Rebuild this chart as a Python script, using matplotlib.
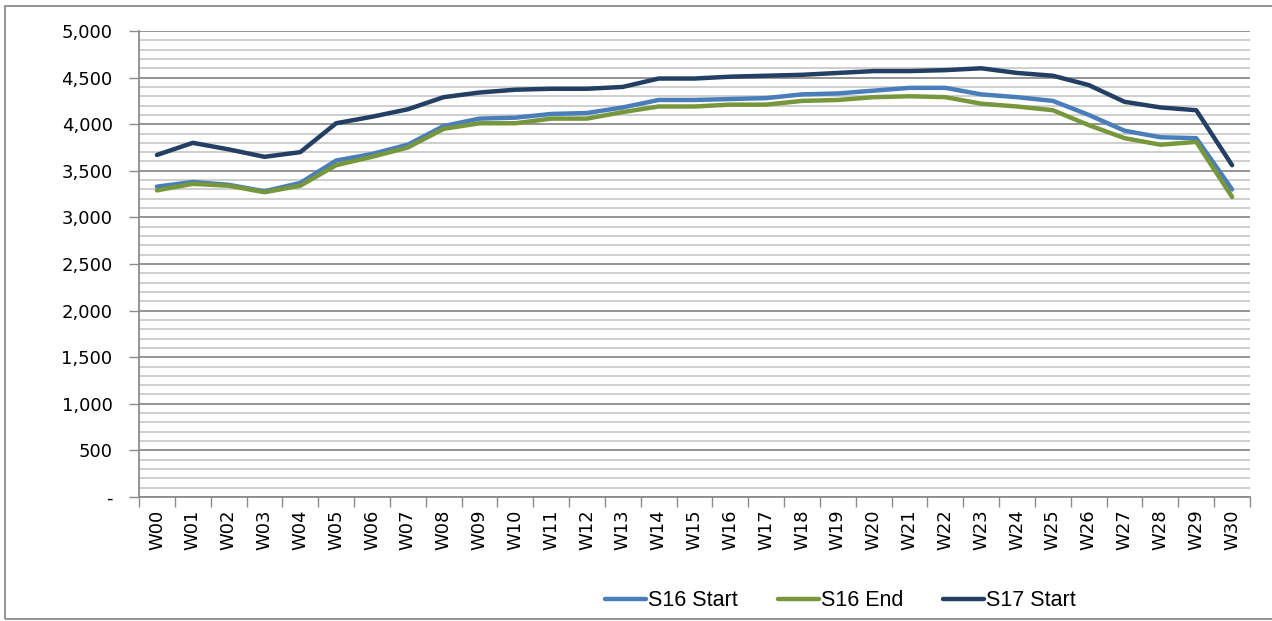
import numpy as np
import matplotlib
matplotlib.use("Agg")
import matplotlib.pyplot as plt
from matplotlib.ticker import MultipleLocator, FixedLocator, FuncFormatter
from matplotlib.patches import Rectangle
from matplotlib.lines import Line2D

weeks = ["W%02d" % i for i in range(31)]

s16_start = [3330, 3380, 3350, 3280, 3370, 3610, 3680, 3780, 3980, 4060,
             4070, 4110, 4120, 4180, 4260, 4260, 4270, 4280, 4320, 4330,
             4360, 4390, 4390, 4320, 4290, 4250, 4100, 3930, 3860, 3850, 3300]
s16_end = [3290, 3360, 3340, 3270, 3340, 3560, 3650, 3750, 3950, 4010,
           4010, 4060, 4060, 4130, 4190, 4190, 4210, 4210, 4250, 4260,
           4290, 4300, 4290, 4220, 4190, 4150, 3990, 3850, 3780, 3810, 3220]
s17_start = [3670, 3800, 3730, 3650, 3700, 4010, 4080, 4160, 4290, 4340,
             4370, 4380, 4380, 4400, 4490, 4490, 4510, 4520, 4530, 4550,
             4570, 4570, 4580, 4600, 4550, 4520, 4420, 4240, 4180, 4150, 3560]

series = [("S16 Start", s16_start, "#4a7ebb"),
          ("S16 End", s16_end, "#77973d"),
          ("S17 Start", s17_start, "#233f63")]

plt.rcParams['font.family'] = ['DejaVu Sans']

fig = plt.figure(figsize=(12.72, 6.21), dpi=100)
ax = fig.add_axes([139/1272, 1-497/621, 1111/1272, 466/621])

x = np.arange(len(weeks))
for name, vals, col in series:
    ax.plot(x, vals, color=col, lw=3.2, solid_capstyle='round', solid_joinstyle='round', label=name, zorder=3)

ax.set_xlim(-0.5, len(weeks) - 0.5)
ax.set_ylim(0, 5000)

# y axis: major every 500, minor every 100
ax.yaxis.set_major_locator(MultipleLocator(500))
ax.yaxis.set_minor_locator(MultipleLocator(100))
ax.yaxis.set_major_formatter(FuncFormatter(lambda v, p: "-" if v == 0 else "{:,.0f}".format(v)))
ax.grid(axis='y', which='major', color='#8c8c8c', lw=1.3, zorder=1)
ax.grid(axis='y', which='minor', color='#cacaca', lw=1.3, zorder=0)
ax.tick_params(axis='y', which='major', length=7, width=1, color='#8c8c8c', labelsize=13, pad=12)
ax.tick_params(axis='y', which='minor', length=0)

# x axis: labels at centres, tick marks at category boundaries
ax.xaxis.set_major_locator(FixedLocator(x))
ax.set_xticklabels(weeks, rotation=90)
ax.xaxis.set_minor_locator(FixedLocator(np.arange(-0.5, len(weeks), 1.0)))
ax.tick_params(axis='x', which='major', length=0, labelsize=13, pad=9)
ax.tick_params(axis='x', which='minor', length=7, width=1, color='#8c8c8c')

for side in ['top', 'right']:
    ax.spines[side].set_visible(False)
for side in ['left', 'bottom']:
    ax.spines[side].set_color('#8c8c8c')
    ax.spines[side].set_linewidth(1.3)

# legend entries placed like the excel legend
legx = [600, 773, 938]
for (name, vals, col), lx in zip(series, legx):
    h = Line2D([], [], color=col, lw=3.2, solid_capstyle='round')
    fig.legend([h], [name], loc='center left', bbox_to_anchor=(lx/1272 - 0.011, 1-601/621),
               frameon=False, handlelength=1.9, handletextpad=0.1,
               prop={'family': ['Liberation Sans Narrow', 'Liberation Sans'], 'size': 15.5})

# chart border
fig.patches.append(Rectangle((5/1272, 2/621), 1.0, 1-8/621, transform=fig.transFigure,
                             fill=False, edgecolor='#8c8c8c', lw=1.3))

fig.savefig("out.png", dpi=100)
